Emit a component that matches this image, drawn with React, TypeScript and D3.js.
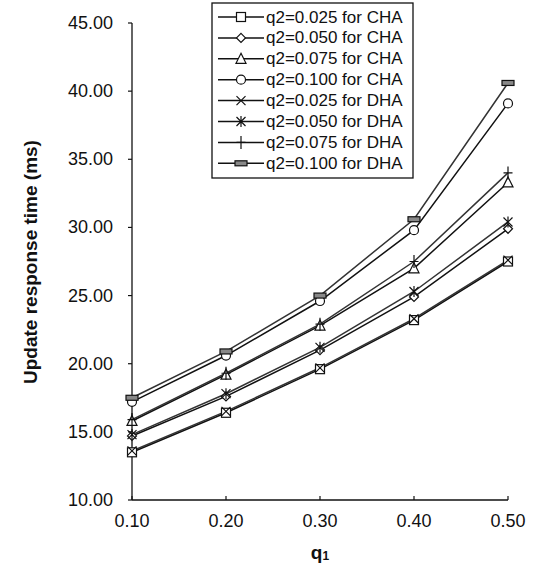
import React from "react";
import * as d3 from "d3";

const q1Values = [0.1, 0.2, 0.3, 0.4, 0.5];
const xTickLabels = ["0.10", "0.20", "0.30", "0.40", "0.50"];
const yTicks = [10, 15, 20, 25, 30, 35, 40, 45];

const seriesNames = [
  "q2=0.025 for CHA",
  "q2=0.050 for CHA",
  "q2=0.075 for CHA",
  "q2=0.100 for CHA",
  "q2=0.025 for DHA",
  "q2=0.050 for DHA",
  "q2=0.075 for DHA",
  "q2=0.100 for DHA",
];
const seriesMarkers = ["square", "diamond", "triangle", "circle", "x", "star", "plus", "dash"];

const cha025 = [13.5, 16.4, 19.6, 23.2, 27.5];
const cha050 = [14.7, 17.6, 21.0, 24.9, 29.9];
const cha075 = [15.8, 19.2, 22.8, 27.0, 33.3];
const cha100 = [17.2, 20.6, 24.6, 29.8, 39.1];
const dha025 = [13.6, 16.5, 19.7, 23.3, 27.6];
const dha050 = [14.8, 17.8, 21.2, 25.3, 30.4];
const dha075 = [15.9, 19.3, 22.9, 27.5, 34.0];
const dha100 = [17.5, 20.9, 25.0, 30.6, 40.6];

const seriesValues = [cha025, cha050, cha075, cha100, dha025, dha050, dha075, dha100];

const FONT = "'Liberation Sans', Arial, sans-serif";

function Marker({ type, x, y }: { type: string; x: number; y: number }) {
  const s = 4.5;
  const st = { stroke: "#111", strokeWidth: 1.2 };
  switch (type) {
    case "square":
      return <rect x={x - s} y={y - s} width={2 * s} height={2 * s} fill="#fff" {...st} />;
    case "diamond":
      return (
        <path d={`M${x},${y - s} L${x + s},${y} L${x},${y + s} L${x - s},${y} Z`} fill="#fff" {...st} />
      );
    case "triangle":
      return (
        <path d={`M${x},${y - s - 1} L${x + s + 0.5},${y + s} L${x - s - 0.5},${y + s} Z`} fill="#fff" {...st} />
      );
    case "circle":
      return <circle cx={x} cy={y} r={s} fill="#fff" {...st} />;
    case "x":
      return (
        <path d={`M${x - s},${y - s} L${x + s},${y + s} M${x - s},${y + s} L${x + s},${y - s}`} fill="none" {...st} />
      );
    case "star":
      return (
        <path
          d={`M${x - s},${y - s} L${x + s},${y + s} M${x - s},${y + s} L${x + s},${y - s} M${x},${y - s - 1} L${x},${y + s + 1}`}
          fill="none"
          {...st}
        />
      );
    case "plus":
      return (
        <path d={`M${x},${y - s - 2} L${x},${y + s + 2} M${x - s},${y} L${x + s},${y}`} fill="none" {...st} />
      );
    case "dash":
      return <rect x={x - 6} y={y - 2.5} width={12} height={5} fill="#888" {...st} />;
    default:
      return null;
  }
}

export default function App() {
  const W = 535;
  const H = 575;
  const x = d3.scaleLinear().domain([0.1, 0.5]).range([132, 508]);
  const y = d3.scaleLinear().domain([10, 45]).range([500, 23]);
  const line = d3
    .line<number>()
    .x((_, i) => x(q1Values[i]))
    .y((d) => y(d));

  const legendX = 212;
  const legendY = 3;
  const legendW = 201;
  const legendH = 175;
  const rowH = 20.9;

  return (
    <svg
      width={W}
      height={H}
      style={{ position: "absolute", left: 0, top: 0, background: "#fff" }}
      fontFamily={FONT}
    >
      <rect x={0} y={0} width={W} height={H} fill="#fff" />
      {/* axes */}
      <line x1={x(0.1)} x2={x(0.1)} y1={y(10)} y2={y(45)} stroke="#111" strokeWidth={1.3} />
      <line x1={x(0.1)} x2={x(0.5)} y1={y(10)} y2={y(10)} stroke="#111" strokeWidth={1.3} />
      {yTicks.map((t) => (
        <g key={t}>
          <line x1={x(0.1) - 4} x2={x(0.1)} y1={y(t)} y2={y(t)} stroke="#111" strokeWidth={1.2} />
          <text x={x(0.1) - 19} y={y(t)} textAnchor="end" dominantBaseline="central" fontSize={18} fill="#111">
            {t.toFixed(2)}
          </text>
        </g>
      ))}
      {q1Values.map((v, i) => (
        <g key={v}>
          <line x1={x(v)} x2={x(v)} y1={y(10)} y2={y(10) - 4} stroke="#111" strokeWidth={1.2} />
          <text x={x(v)} y={y(10) + 21} textAnchor="middle" dominantBaseline="central" fontSize={18} fill="#111">
            {xTickLabels[i]}
          </text>
        </g>
      ))}
      <text x={320} y={552} textAnchor="middle" dominantBaseline="central" fontSize={19} fontWeight="bold" fill="#111">
        q<tspan fontSize={12} dy={4}>1</tspan>
      </text>
      <text
        transform={`translate(30,262) rotate(-90)`}
        textAnchor="middle"
        dominantBaseline="central"
        fontSize={19}
        fontWeight="bold"
        fill="#111"
      >
        Update response time (ms)
      </text>

      {/* series */}
      {seriesValues.map((vals, si) => (
        <path key={"l" + si} d={line(vals) || ""} fill="none" stroke={si >= 4 ? "#333" : "#111"} strokeWidth={1.5} />
      ))}
      {seriesValues.map((vals, si) => (
        <g key={"m" + si}>
          {vals.map((v, i) => (
            <Marker key={i} type={seriesMarkers[si]} x={x(q1Values[i])} y={y(v)} />
          ))}
        </g>
      ))}

      {/* legend */}
      <rect x={legendX} y={legendY} width={legendW} height={legendH} fill="#fff" stroke="#111" strokeWidth={1.3} />
      {seriesNames.map((name, i) => {
        const cy = legendY + 14 + i * rowH;
        return (
          <g key={name}>
            <line x1={legendX + 6} x2={legendX + 52} y1={cy} y2={cy} stroke="#111" strokeWidth={1.5} />
            <Marker type={seriesMarkers[i]} x={legendX + 29} y={cy} />
            <text x={legendX + 54} y={cy} dominantBaseline="central" fontSize={17} fill="#111">
              {name}
            </text>
          </g>
        );
      })}
    </svg>
  );
}
